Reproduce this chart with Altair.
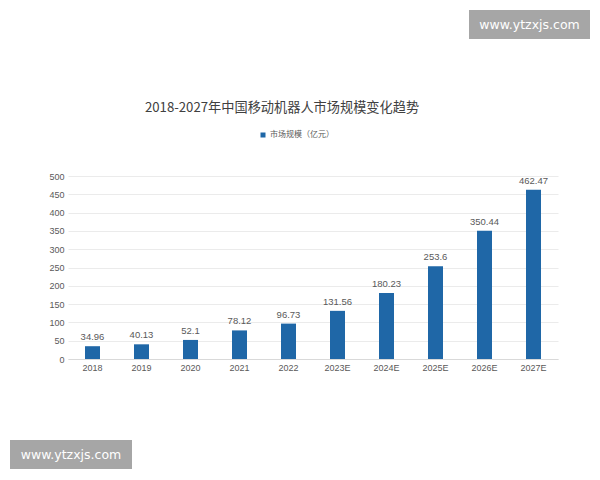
import altair as alt
import pandas as pd

years = ["2018", "2019", "2020", "2021", "2022", "2023E", "2024E", "2025E", "2026E", "2027E"]
values = [34.96, 40.13, 52.1, 78.12, 96.73, 131.56, 180.23, 253.6, 350.44, 462.47]
labels = ["34.96", "40.13", "52.1", "78.12", "96.73", "131.56", "180.23", "253.6", "350.44", "462.47"]
series_name = "市场规模（亿元）"
title_text = "2018-2027年中国移动机器人市场规模变化趋势"
y_ticks = [0, 50, 100, 150, 200, 250, 300, 350, 400, 450, 500]
watermark_text = ["www.ytzxjs.com"]

BAR_COLOR = "#1f67a7"
TEXT_COLOR = "#595959"
NUM_FONT = "Liberation Sans"
CJK_FONT = "Noto Sans CJK SC"

df = pd.DataFrame({
    "year": years,
    "value": values,
    "label": labels,
    "series": [series_name] * len(years),
})

x_enc = alt.X(
    "year:N", sort=years, title=None,
    scale=alt.Scale(paddingInner=0.5, paddingOuter=0.25),
    axis=alt.Axis(labelAngle=0, labelFontSize=9, labelColor=TEXT_COLOR, labelFont=NUM_FONT,
                  labelPadding=4, ticks=False, domainColor="#d9d9d9", grid=False),
)
y_enc = alt.Y(
    "value:Q", title=None,
    scale=alt.Scale(domain=[0, 500], nice=False),
    axis=alt.Axis(values=y_ticks, labelFontSize=9, labelColor=TEXT_COLOR, labelFont=NUM_FONT,
                  labelPadding=4, ticks=False, domain=False, gridColor="#ebebeb",
                  labelOverlap=False, labelFlush=False),
)

base = alt.Chart(df)

bars = base.mark_bar(size=15).encode(
    x=x_enc,
    y=y_enc,
    color=alt.Color(
        "series:N",
        scale=alt.Scale(domain=[series_name], range=[BAR_COLOR]),
        legend=alt.Legend(
            title=None, orient="none", legendX=191, legendY=-45,
            symbolType="square", symbolSize=25, symbolStrokeWidth=0,
            labelFontSize=8, labelFont=CJK_FONT, labelColor=TEXT_COLOR, labelOffset=3,
        ),
    ),
)

bar_labels = base.mark_text(dy=-4, baseline="bottom", fontSize=9.5, font=NUM_FONT, color=TEXT_COLOR).encode(
    x=x_enc,
    y=y_enc,
    text="label:N",
)

title_df = pd.DataFrame({"t": [title_text]})
title = alt.Chart(title_df).mark_text(
    fontSize=13.2, font=CJK_FONT, color="#404040", align="center", baseline="middle"
).encode(x=alt.value(214), y=alt.value(-68), text="t:N")

wm_df = pd.DataFrame({"t": watermark_text})
wm_box1 = alt.Chart(wm_df).mark_rect(color="#a6a6a6").encode(
    x=alt.value(401), x2=alt.value(522), y=alt.value(-166), y2=alt.value(-137))
wm_text1 = alt.Chart(wm_df).mark_text(
    fontSize=12.5, font="DejaVu Sans", color="white", align="center", baseline="middle"
).encode(x=alt.value(461.5), y=alt.value(-151.5), text="t:N")
wm_box2 = alt.Chart(wm_df).mark_rect(color="#a6a6a6").encode(
    x=alt.value(-58), x2=alt.value(64), y=alt.value(264), y2=alt.value(293))
wm_text2 = alt.Chart(wm_df).mark_text(
    fontSize=12.5, font="DejaVu Sans", color="white", align="center", baseline="middle"
).encode(x=alt.value(3), y=alt.value(278.5), text="t:N")

chart = alt.layer(bars, bar_labels, title, wm_box1, wm_text1, wm_box2, wm_text2).properties(
    width=490, height=183,
    autosize=alt.AutoSizeParams(type="none"),
    padding={"left": 60, "top": 168, "right": 34, "bottom": 113},
    background="white",
).configure_view(stroke=None)

chart.save("out.html", embed_options={"renderer": "svg", "actions": False})
